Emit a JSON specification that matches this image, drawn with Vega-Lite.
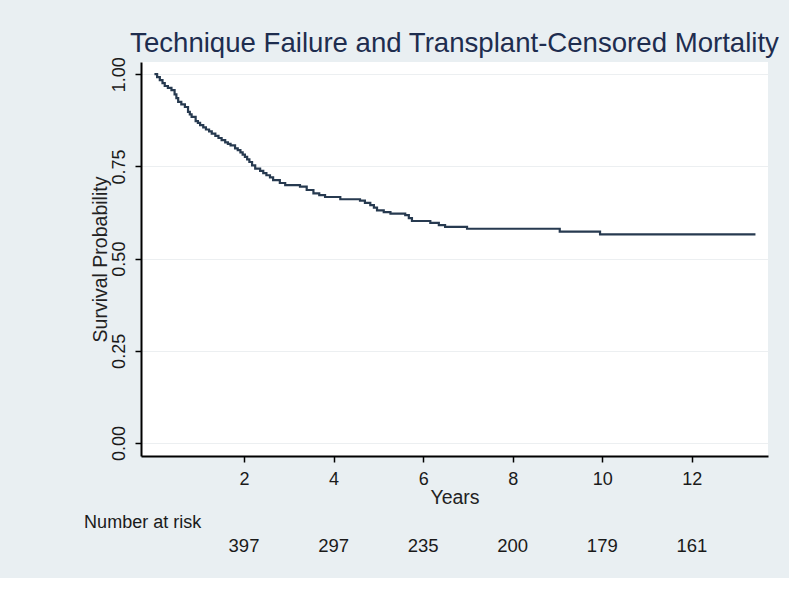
{
  "$schema": "https://vega.github.io/schema/vega-lite/v6.json",
  "autosize": {"type": "none"},
  "width": 627,
  "height": 394,
  "padding": {"left": 141, "top": 62, "right": 21, "bottom": 122},
  "background": "#e9eff2",
  "config": {
    "font": "Liberation Sans",
    "view": {"fill": "white", "stroke": null}
  },
  "title": {
    "text": "Technique Failure and Transplant-Censored Mortality",
    "fontSize": 27.6,
    "fontWeight": "normal",
    "color": "#1e2d4f",
    "anchor": "middle",
    "frame": "group",
    "offset": -1
  },
  "datasets": {
    "km": [
      {"time": 0, "surv": 1.0},
      {"time": 0.06, "surv": 0.992},
      {"time": 0.12, "surv": 0.984},
      {"time": 0.18, "surv": 0.976},
      {"time": 0.23, "surv": 0.968},
      {"time": 0.3, "surv": 0.963},
      {"time": 0.38, "surv": 0.957},
      {"time": 0.45, "surv": 0.945},
      {"time": 0.49, "surv": 0.935},
      {"time": 0.53, "surv": 0.925},
      {"time": 0.6, "surv": 0.918},
      {"time": 0.68, "surv": 0.911},
      {"time": 0.75, "surv": 0.898},
      {"time": 0.79, "surv": 0.891},
      {"time": 0.83, "surv": 0.884},
      {"time": 0.92, "surv": 0.873},
      {"time": 0.97, "surv": 0.868},
      {"time": 1.02, "surv": 0.862},
      {"time": 1.09, "surv": 0.856},
      {"time": 1.15, "surv": 0.85},
      {"time": 1.22, "surv": 0.845},
      {"time": 1.28, "surv": 0.839},
      {"time": 1.36, "surv": 0.833},
      {"time": 1.43, "surv": 0.827},
      {"time": 1.5, "surv": 0.821},
      {"time": 1.58, "surv": 0.815},
      {"time": 1.64, "surv": 0.811},
      {"time": 1.7, "surv": 0.807},
      {"time": 1.8, "surv": 0.799},
      {"time": 1.86, "surv": 0.794},
      {"time": 1.92, "surv": 0.788},
      {"time": 1.97, "surv": 0.782},
      {"time": 2.02, "surv": 0.776},
      {"time": 2.07, "surv": 0.769},
      {"time": 2.12, "surv": 0.762},
      {"time": 2.18, "surv": 0.753},
      {"time": 2.25, "surv": 0.744},
      {"time": 2.36, "surv": 0.738},
      {"time": 2.43, "surv": 0.732},
      {"time": 2.5, "surv": 0.726},
      {"time": 2.58, "surv": 0.72},
      {"time": 2.65, "surv": 0.713},
      {"time": 2.8, "surv": 0.705},
      {"time": 2.92, "surv": 0.699},
      {"time": 3.25, "surv": 0.695},
      {"time": 3.4, "surv": 0.686},
      {"time": 3.55, "surv": 0.677},
      {"time": 3.68, "surv": 0.672},
      {"time": 3.81, "surv": 0.667},
      {"time": 4.15, "surv": 0.661},
      {"time": 4.59, "surv": 0.657},
      {"time": 4.7, "surv": 0.651},
      {"time": 4.82, "surv": 0.645},
      {"time": 4.9, "surv": 0.638},
      {"time": 4.97, "surv": 0.631},
      {"time": 5.12, "surv": 0.626},
      {"time": 5.27, "surv": 0.622},
      {"time": 5.6, "surv": 0.618},
      {"time": 5.68, "surv": 0.61},
      {"time": 5.75, "surv": 0.602},
      {"time": 6.16, "surv": 0.597},
      {"time": 6.35, "surv": 0.591},
      {"time": 6.49, "surv": 0.586},
      {"time": 6.98, "surv": 0.581},
      {"time": 9.05, "surv": 0.573},
      {"time": 9.95, "surv": 0.566},
      {"time": 13.42, "surv": 0.566}
    ],
    "risk": [
      {"time": 2, "n": 397},
      {"time": 4, "n": 297},
      {"time": 6, "n": 235},
      {"time": 8, "n": 200},
      {"time": 10, "n": 179},
      {"time": 12, "n": 161}
    ],
    "risklabel": [
      {"label": "Number at risk"}
    ]
  },
  "layer": [
    {
      "data": {"name": "km"},
      "mark": {"type": "line", "interpolate": "step-after", "color": "#273a50", "strokeWidth": 2.2},
      "encoding": {
        "x": {
          "field": "time",
          "type": "quantitative",
          "scale": {"domain": [-0.3, 13.7], "nice": false, "zero": false},
          "axis": {
            "title": "Years",
            "values": [2, 4, 6, 8, 10, 12],
            "grid": false,
            "domainColor": "#000000",
            "domainWidth": 2,
            "tickColor": "#000000",
            "tickWidth": 1.5,
            "tickSize": 6,
            "labelFontSize": 18,
            "labelColor": "#1a1a1a",
            "labelPadding": 8,
            "labelBaseline": "top",
            "titleFontSize": 19.5,
            "titleFontWeight": "normal",
            "titleColor": "#222222",
            "titlePadding": 0
          }
        },
        "y": {
          "field": "surv",
          "type": "quantitative",
          "scale": {"domain": [-0.035, 1.033], "nice": false, "zero": false},
          "axis": {
            "title": "Survival Probability",
            "values": [0, 0.25, 0.5, 0.75, 1],
            "format": ".2f",
            "grid": true,
            "gridColor": "#eceff1",
            "gridWidth": 1,
            "domainColor": "#000000",
            "domainWidth": 2,
            "tickColor": "#000000",
            "tickWidth": 1.5,
            "tickSize": 6,
            "labelAngle": -90,
            "labelAlign": "center",
            "labelBaseline": "alphabetic",
            "labelFontSize": 18,
            "labelColor": "#1a1a1a",
            "labelPadding": 11,
            "titleFontSize": 19.5,
            "titleFontWeight": "normal",
            "titleColor": "#222222",
            "titlePadding": 0
          }
        }
      }
    },
    {
      "data": {"name": "risk"},
      "mark": {"type": "text", "fontSize": 18.5, "color": "#1a1a1a", "align": "center", "baseline": "middle"},
      "encoding": {
        "x": {"field": "time", "type": "quantitative"},
        "y": {"datum": -0.28},
        "text": {"field": "n", "type": "quantitative"}
      }
    },
    {
      "data": {"name": "risklabel"},
      "mark": {"type": "text", "fontSize": 18, "color": "#1a1a1a", "align": "left", "baseline": "middle"},
      "encoding": {
        "x": {"datum": -1.57},
        "y": {"datum": -0.217},
        "text": {"field": "label", "type": "nominal"}
      }
    }
  ]
}
